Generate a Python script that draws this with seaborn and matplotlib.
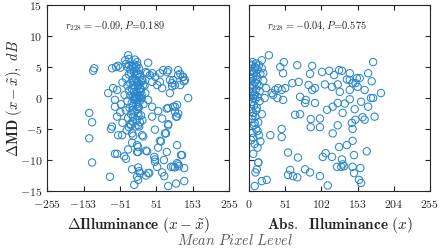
import numpy as np
import seaborn as sns
import matplotlib
matplotlib.use("Agg")
import matplotlib.pyplot as plt

# delta illuminance (x - mean) vs delta MD
rel_x = [-123, -126, -137, -129, -137, -129, -79, -73, -76, -56, -45, -65, -59, -39, -34, -28,
         -17, -3, 0, -20, 0, 3, -17, -14, 11, 14, -3, 22, -17, 0, 3, 5, -3, 0, -11, 22, 31,
         45, 47, 47, 47, 64, 56, 53, 67, 72, 80, 84, 84, 75, 109, 120, 109, 114, 98, 103, 129, 129, 106,
         -28, -36, -3, 28, -73, -62, -56, -50, 22, 39, 70, 84, 112, 118, 125, 128, 98, 103, 118, 95,
         140, 109, 103, 80, 103, 112, 109, 67, 39, -84, -70, -59, -65, -65, -59,
         81, 61, 112, 126, 131, 89, 95, 39, 48, 25, 33, 53, 61, 67, 89, 28, 20, 5, 14, 11, -3,
         0, 39, 56, 84, 98, 106, 84, 78, 61, 123, 112, 92, 73, 28, 25, 0,
         -34, -30, -26, -22, -18, -14, -10, -6, -2, 2, -12, -20, -26, -8, 0, 5, -34, -16, -5, -12,
         -2, 8, 12, -22, -30, -15, -8, 0, -18, -26, -12, -4, 6, -38, -22, -14, -10, -6, -12, -8,
         -3, 10, -30, -18, -5, -15, 2, -24, -34, -10, -20, 0, 8, -14, -28, -4, -16, 5, -22, -8,
         -44, -32, -48, -44, 15, 18, -26, -9, -5, -1, 3, -16, -26, 12, -50,
         -6, 2, 6, -2, 10, -10, 4, -4, 8, 1]
rel_md = [4.8, 4.4, -2.4, -3.9, -6.5, -10.4, -12.7, -4.6, -5.0, -6.0, -6.0, -9.0, -9.0, -9.4, -9.8, -8.3,
          -7.2, -7.6, -7.9, -4.4, -4.4, -4.6, -5.7, -6.1, -6.0, -6.2, -8.7, -8.5, -11.5, -11.2, -11.8, -12.1, -12.7, -13.2, -14.0, -12.5, -12.1,
          -9.5, -9.9, -10.3, -5.1, -7.0, -8.0, -11.1, -12.0, -10.0, -8.7, -14.2, -4.2, -5.7, -7.6, -9.2, -10.5, -11.0, -11.1, -11.2, -11.3, -13.4, -13.8,
          6.9, 6.1, 5.8, 5.7, 4.8, 5.0, 5.2, 4.9, 4.2, 4.0, 4.5, 4.5, 4.5, 3.9, 3.4, 2.7, 2.9, 2.1, 2.1, 1.9,
          0.0, -1.1, -1.4, -1.7, -2.2, -2.5, -3.0, -3.3, -3.0, 0.8, 1.6, 1.3, -0.3, -1.4, -3.0,
          4.2, 4.0, 3.7, 3.4, 2.9, 2.9, 2.4, 2.6, 3.4, 4.0, 3.7, 2.1, 2.6, 1.6, 0.8, -0.3, 0.8, 1.6, 2.1, 2.9, 3.7,
          -1.4, -1.4, -2.1, -1.6, -1.4, -3.0, -4.4, -5.7, -6.9, -9.2, -10.7, -11.1, -12.6, -12.1, -8.6, -8.7,
          5.5, 5.0, 5.3, 4.6, 5.2, 5.0, 5.4, 5.0, 5.3, 4.8, 4.2, 4.0, 3.8, 3.6, 3.9, 3.4, 3.2, 3.0, 2.9, 2.7,
          2.5, 2.6, 2.8, 2.4, 2.0, 2.1, 1.8, 1.9, 1.5, 1.2, 1.0, 0.9, 1.0, 0.5, 0.4, 0.2, 0.0, 0.1, -0.2, 0.3,
          -0.1, 0.0, -0.5, -0.8, -1.0, -1.3, -1.5, -1.6, -2.0, -2.2, -2.6, -2.4, -2.8, -3.0, -3.2, -3.5, -3.8, -3.9, -4.2, -4.6,
          -4.0, -5.2, -1.0, 2.5, -1.0, 2.0, 6.3, 6.2, 4.4, 0.5, 2.2, -2.0, -4.7, -3.6, -2.3,
          0.0, 0.2, -0.4, -0.6, 0.5, -0.3, 0.1, -1.8, 1.4, -2.9]

# absolute illuminance vs delta MD
abs_x = [5, 10, 3, 8, 14, 12, 4, 18, 7, 2, 10, 16, 5, 12, 3, 8, 20, 6, 14, 2, 10, 5, 8, 3, 12,
         6, 9, 4, 15, 7, 3, 11, 6, 9, 4, 13, 7, 10, 5, 14, 3, 8, 12, 6, 13, 11, 22, 18, 20, 24,
         28, 18, 49, 44, 68, 89, 175, 86, 103, 113, 127, 131, 142, 120, 152, 156, 168, 138, 142, 146,
         150, 173, 125, 107, 117, 128, 142, 153, 163, 186, 172, 175, 158, 142, 125,
         70, 61, 51, 46, 37, 32, 72, 80, 93, 84, 48, 89, 79, 93, 48, 40, 34, 41,
         118, 110, 132, 135, 149, 168, 160, 163, 177, 150, 65, 72, 87, 87, 100, 100,
         46, 46, 30, 55, 69, 79, 86, 58, 55, 62, 68, 100, 111, 104, 108, 117, 125, 145, 146, 118,
         146, 138, 127, 166, 148, 131, 132, 124, 130, 134, 146, 157, 148, 155, 158, 8, 18, 25, 13,
         4, 9, 6, 11, 2, 15, 7, 3, 10, 5, 8, 12, 6, 16, 9]
abs_md = [5.8, 5.6, 5.2, 5.0, 5.3, 4.6, 4.4, 4.8, 4.1, 3.8, 3.6, 3.9, 3.2, 3.0, 2.7, 2.5, 2.8, 2.1, 2.0, 1.7,
          1.4, 1.0, 0.6, 0.3, 0.2, 0.0, -0.2, -0.6, -0.5, -1.2, -1.8, -1.6, -2.4, -3.0, -3.4, -3.9, -4.4, -5.0,
          -5.6, -6.0, -6.8, -7.4, -8.0, -9.0, -10.4, -11.5, 0.0, -2.6, 4.0, 1.6,
          6.9, 6.1, 5.8, 5.0, 5.3, 5.2, 5.8, 3.9, 4.2, 4.4, 4.5, 4.4, 4.0, 3.7, 3.2, 3.2, 4.0, 3.0, 2.9, 2.4,
          2.4, 2.7, 2.2, 2.2, 1.8, 1.0, 1.3, 1.8, 1.3, 0.8, 0.0, 0.0, -0.6, -0.2, -0.8,
          2.6, 2.4, 1.6, 1.3, 1.3, 0.8, 0.2, -0.3, 1.6, 2.1, 4.0, 1.3, -0.8, -0.8, -0.3, 0.0, 0.5, 1.6,
          -1.4, -1.9, -2.4, -0.9, -1.8, -1.4, -3.1, -3.5, -3.0, -3.5, -2.7, -2.6, -3.4, -4.7, -3.3, -4.7,
          -5.0, -6.3, -6.0, -8.8, -9.6, -11.5, -12.0, -11.6, -12.4, -12.6, -12.8, -12.6, -14.1, -9.5, -8.9, -9.5, -4.4, -4.0, -5.0, -5.7,
          -6.9, -7.6, -7.9, -8.6, -9.2, -9.9, -10.7, -11.1, -11.1, -11.0, -11.1, -11.3, -12.1, -13.2, -13.7, -14.2, -13.4, -13.2, -10.4,
          5.4, 4.9, 3.4, 2.3, 1.9, 1.1, 0.4, -1.0, -2.0, -2.9, -4.0, -5.3, -6.4, -7.0, -12.0]

rel_ticks = [-255, -153, -51, 51, 153, 255]
abs_ticks = [0, 51, 102, 153, 204, 255]
md_ticks = [-15, -10, -5, 0, 5, 10, 15]
stats = [r"$r_{228}=-0.09, P\!=\!0.189$", r"$r_{228}=-0.04, P\!=\!0.575$"]

sns.set_style("ticks")
plt.rcParams["mathtext.fontset"] = "cm"
plt.rcParams["font.family"] = ["DejaVu Serif"]

fig = plt.figure(figsize=(4.4, 2.52), dpi=100)
ax1 = fig.add_axes([0.107, 0.242, 0.414, 0.738])
ax2 = fig.add_axes([0.566, 0.242, 0.411, 0.738])

dot = "#2b87cc"
sns.scatterplot(x=rel_x, y=rel_md, ax=ax1, marker="o", s=28, facecolor="none",
                edgecolor=dot, linewidth=0.75)
sns.scatterplot(x=abs_x, y=abs_md, ax=ax2, marker="o", s=28, facecolor="none",
                edgecolor=dot, linewidth=0.75)

for ax, ticks, txt in [(ax1, rel_ticks, stats[0]), (ax2, abs_ticks, stats[1])]:
    ax.set_xlim(ticks[0], ticks[-1])
    ax.set_ylim(-15, 15)
    ax.set_xticks(ticks)
    ax.set_xticklabels([f"${t}$" for t in ticks], fontsize=8.5)
    ax.set_yticks(md_ticks)
    ax.tick_params(direction="in", top=True, right=True, length=3.5, width=0.8)
    ax.tick_params(axis="x", pad=5)
    for sp in ax.spines.values():
        sp.set_linewidth(0.8)
    ax.text(0.1, 0.87, txt, transform=ax.transAxes, fontsize=7.5, color="#222222")

ax1.set_yticklabels([f"${t}$" for t in md_ticks], fontsize=8.5)
ax2.set_yticklabels([])

ax1.set_xlabel(r"$\mathbf{\Delta Illuminance}\ (x-\tilde{x})$", fontsize=11, labelpad=3)
ax2.set_xlabel(r"$\mathbf{Abs.\ \ Illuminance}\ (x)$", fontsize=11, labelpad=3)
ax1.set_ylabel(r"$\mathbf{\Delta MD}\ (x-\tilde{x}),\ dB$", fontsize=10.5)
ax1.yaxis.set_label_coords(-0.125, 0.5)

fig.text(0.535, 0.045, r"$Mean\ Pixel\ Level$", ha="center", va="center",
         fontsize=10.5, color="#555555")

fig.savefig("out.png", dpi=100)
